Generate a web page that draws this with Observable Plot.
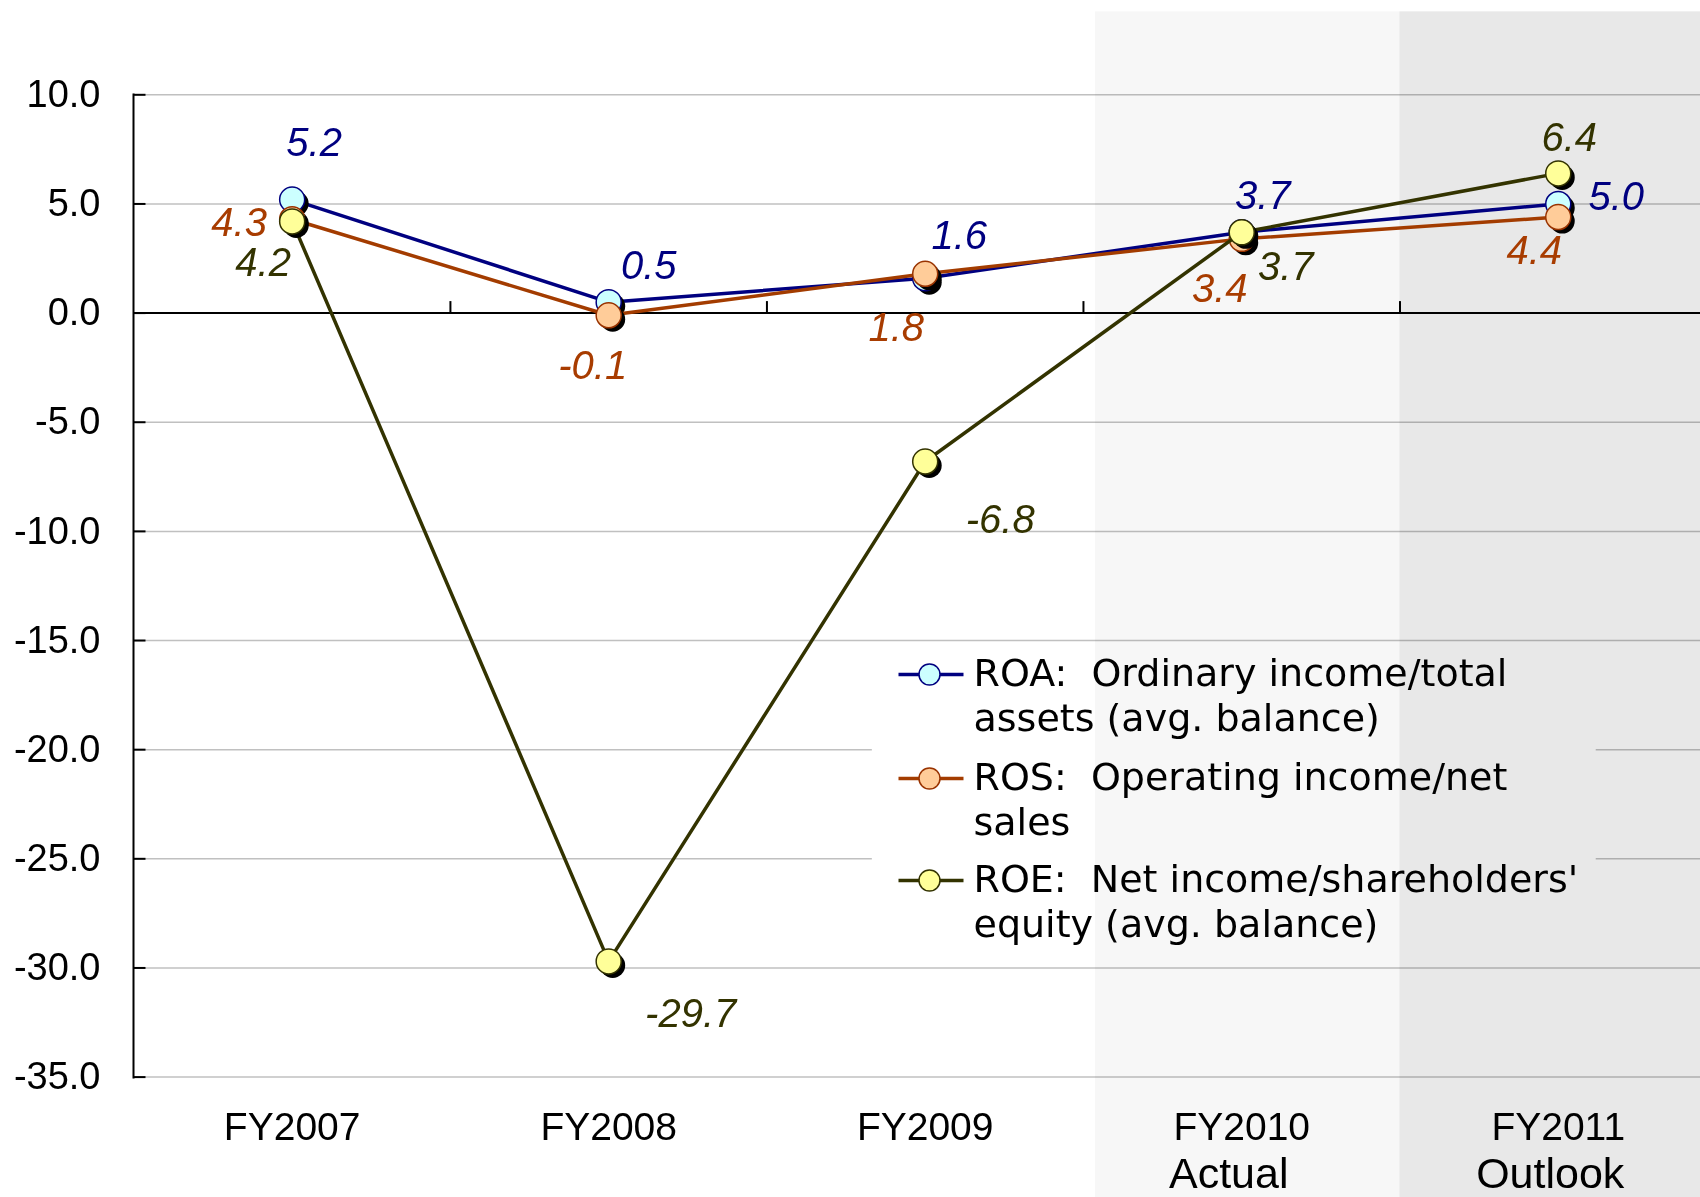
<!DOCTYPE html>
<html>
<head>
<meta charset="utf-8">
<script src="https://cdn.jsdelivr.net/npm/d3@7"></script>
<script src="https://cdn.jsdelivr.net/npm/@observablehq/plot@0.6"></script>
<style>
  html, body { margin: 0; padding: 0; background: white; }
  #chart svg { display: block; }
</style>
</head>
<body>
<div id="chart"></div>
<script>
// ---- data ----
const categories = ["FY2007", "FY2008", "FY2009", "FY2010", "FY2011"];
const subLabels = ["", "", "", "Actual", "Outlook"];
const roa = [5.2, 0.5, 1.6, 3.7, 5.0];
const ros = [4.3, -0.1, 1.8, 3.4, 4.4];
const roe = [4.2, -29.7, -6.8, 3.7, 6.4];
const yTicks = [10, 5, 0, -5, -10, -15, -20, -25, -30, -35];
const seriesNames = [
  "ROA:  Ordinary income/total\nassets (avg. balance)",
  "ROS:  Operating income/net\nsales",
  "ROE:  Net income/shareholders'\nequity (avg. balance)"
];

// ---- styling / layout (not data) ----
const styles = [
  {line: "#000080", fill: "#ccffff", stroke: "#000080", text: "#000080"},
  {line: "#a33c00", fill: "#ffcc99", stroke: "#993300", text: "#a83c00"},
  {line: "#333300", fill: "#ffff99", stroke: "#333300", text: "#333300"}
];
const labelOffsets = [
  [[22, -56], [40, -36], [34, -42], [21, -36], [58, -7]],
  [[-53, 4], [-16, 51], [-29, 54], [-22, 50], [-24, 34]],
  [[-29, 42], [82, 53], [75, 59], [44, 35], [11, -35]]
];
const subOffsets = [0, 0, 0, -13, -8];
const legendRows = [674, 778, 880];

const series = [roa, ros, roe];
const catRows = categories.map((c, i) => ({i, cat: c, sub: subLabels[i]}));
const seriesRows = series.map(vals => vals.map((v, i) => ({i, v})));
const boundaries = categories.slice(1).map((c, i) => i + 0.5);

const segSymbol = {draw(ctx) { ctx.moveTo(-31, 0); ctx.lineTo(34, 0); }};
const yTickSymbol = {draw(ctx) { ctx.moveTo(0, 0); ctx.lineTo(12, 0); }};
const xTickSymbol = {draw(ctx) { ctx.moveTo(0, 0); ctx.lineTo(0, -12); }};

const sans = "Liberation Sans, Arial, sans-serif";
const marks = [];

// gridlines
marks.push(Plot.ruleY(yTicks.filter(d => d !== 0), {y: d => d, stroke: "#c0c0c0", strokeWidth: 1.5}));
// legend background hides gridlines
marks.push(Plot.rect([{x1: 1.833, x2: 4.12, y1: -15.5, y2: -29.3}], {x1: "x1", x2: "x2", y1: "y1", y2: "y2", fill: "white"}));
// shaded periods
marks.push(Plot.rect([{x1: 2.5, x2: 3.5, f: "#f7f7f7"}], {x1: "x1", x2: "x2", y1: -41, y2: 13.8, fill: "f", insetLeft: 12, mixBlendMode: "multiply"}));
marks.push(Plot.rect([{x1: 3.5, x2: 4.5, f: "#e8e8e8"}], {x1: "x1", x2: "x2", y1: -41, y2: 13.8, fill: "f", mixBlendMode: "multiply"}));
// zero line and axis
marks.push(Plot.ruleY([0], {y: d => d, stroke: "black", strokeWidth: 2}));
marks.push(Plot.frame({anchor: "left", stroke: "black", strokeWidth: 2}));
marks.push(Plot.dot(yTicks, {y: d => d, frameAnchor: "left", symbol: yTickSymbol, stroke: "black", strokeWidth: 2, fill: "none"}));
marks.push(Plot.dot(boundaries, {x: d => d, y: 0, symbol: xTickSymbol, stroke: "black", strokeWidth: 2, fill: "none"}));
marks.push(Plot.axisY({ticks: yTicks, tickFormat: d => d.toFixed(1), tickSize: 0, tickPadding: 33, fontSize: 38, fontFamily: sans, fill: "black", label: null}));

// series
seriesRows.forEach((rows, s) => {
  const st = styles[s];
  marks.push(Plot.line(rows, {x: "i", y: "v", stroke: st.line, strokeWidth: 3.5}));
  marks.push(Plot.dot(rows, {x: "i", y: "v", r: 12.5, fill: "black", dx: 4, dy: 4}));
  marks.push(Plot.dot(rows, {x: "i", y: "v", r: 12.5, fill: st.fill, stroke: st.stroke, strokeWidth: 1.5}));
});
// value labels
seriesRows.forEach((rows, s) => {
  rows.forEach((row, i) => {
    marks.push(Plot.text([row], {
      x: "i", y: "v", text: d => d.v.toFixed(1),
      dx: labelOffsets[s][i][0], dy: labelOffsets[s][i][1],
      fill: styles[s].text, fontSize: 40, fontStyle: "italic", fontFamily: sans,
      textAnchor: "middle", lineAnchor: "middle"
    }));
  });
});

// category labels
marks.push(Plot.text(catRows, {x: "i", text: "cat", frameAnchor: "bottom", dy: 50, fontSize: 39, fontFamily: sans, fill: "black", lineAnchor: "middle"}));
catRows.filter(d => d.sub).forEach(d => {
  marks.push(Plot.text([d], {x: "i", text: "sub", frameAnchor: "bottom", dy: 96.5, dx: subOffsets[d.i], fontSize: 43, fontFamily: sans, fill: "black", lineAnchor: "middle"}));
});

// legend
seriesNames.forEach((name, k) => {
  const st = styles[k];
  const dy = legendRows[k] - 94;
  marks.push(Plot.dot([0], {frameAnchor: "top-left", dx: 796, dy, symbol: segSymbol, stroke: st.line, strokeWidth: 3.5, fill: "none"}));
  marks.push(Plot.dot([0], {frameAnchor: "top-left", dx: 796, dy, r: 10.5, fill: st.fill, stroke: st.stroke, strokeWidth: 1.5}));
  marks.push(Plot.text([name], {frameAnchor: "top-left", dx: 840, dy: dy - 20, text: d => d, textAnchor: "start", lineAnchor: "top", lineHeight: 1.17, fontSize: 38, fontFamily: "DejaVu Sans", fill: "black"}));
});

const chart = Plot.plot({
  width: 1700,
  height: 1197,
  marginLeft: 133,
  marginRight: 0,
  marginTop: 94,
  marginBottom: 120,
  style: {background: "white", overflow: "hidden"},
  x: {type: "linear", domain: [-0.5, 4.5], range: [133.4, 1716], axis: null},
  y: {domain: [-35, 10], range: [1076.6, 94.3]},
  marks
});
document.getElementById("chart").appendChild(chart);
</script>
</body>
</html>
